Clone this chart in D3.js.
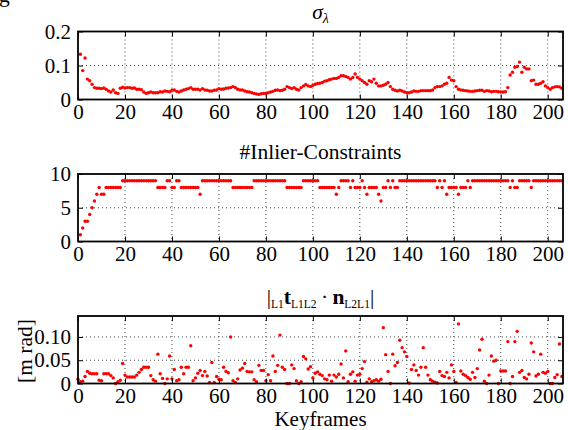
<!DOCTYPE html>
<html>
<head>
<meta charset="utf-8">
<script src="https://cdn.jsdelivr.net/npm/d3@7"></script>
<style>
  body { margin: 0; background: #fff; }
  svg, svg text { font-family: "Liberation Serif", "DejaVu Serif", serif; }
</style>
</head>
<body>
<svg id="chart" width="568" height="430"></svg>
<script>
// sigma_lambda per keyframe, keyframes 1..206
const sigma_start = 1
const sigma_lambda = [
  .133, .085, .122, .060, .055, .045, .035, .033, .033, .032,
  .034, .030, .025, .022, .028, .020, .018, .033, .036, .034,
  .035, .035, .033, .034, .030, .030, .029, .022, .018, .020,
  .022, .020, .020, .020, .023, .022, .025, .024, .023, .027,
  .028, .024, .022, .025, .028, .030, .032, .035, .030, .030,
  .030, .028, .032, .028, .027, .025, .025, .027, .028, .032,
  .030, .031, .033, .034, .035, .038, .035, .030, .028, .028,
  .025, .023, .022, .020, .018, .016, .015, .017, .018, .018,
  .020, .022, .024, .027, .028, .026, .027, .030, .038, .035,
  .032, .035, .030, .028, .035, .040, .044, .040, .038, .042,
  .045, .047, .048, .050, .054, .055, .058, .060, .062, .062,
  .065, .070, .070, .068, .065, .060, .065, .075, .065, .060,
  .055, .050, .045, .055, .052, .060, .048, .040, .040, .042,
  .045, .050, .038, .030, .027, .025, .027, .025, .022, .020,
  .020, .022, .025, .024, .024, .026, .026, .026, .026, .026,
  .028, .035, .038, .038, .040, .045, .048, .065, .057, .055,
  .038, .030, .028, .027, .026, .025, .024, .024, .025, .026,
  .027, .027, .024, .026, .025, .023, .024, .024, .023, .022,
  .022, .023, .035, .072, .080, .095, .097, .110, .080, .095,
  .090, .090, .055, .057, .045, .045, .048, .052, .040, .035,
  .030, .035, .037, .038, .037, .033
]

// number of inlier constraints per keyframe, keyframes 1..206
const inlier_start = 1
const inlier_constraints = [
  1, 2, 3, 3, 4, 5, 6, 7, 8, 7,
  7, 8, 8, 8, 8, 8, 8, 8, 9, 9,
  9, 9, 9, 9, 9, 9, 9, 9, 9, 9,
  9, 9, 9, 8, 8, 8, 8, 9, 9, 8,
  8, 9, 9, 8, 8, 8, 8, 8, 8, 8,
  8, 7, 9, 9, 9, 9, 9, 9, 9, 9,
  9, 9, 9, 9, 9, 8, 8, 8, 8, 8,
  8, 8, 8, 8, 9, 9, 9, 9, 9, 9,
  9, 9, 9, 9, 9, 9, 9, 9, 8, 8,
  8, 8, 8, 8, 8, 9, 9, 9, 9, 9,
  9, 9, 8, 8, 8, 8, 8, 8, 8, 7,
  8, 9, 9, 9, 9, 8, 9, 8, 8, 8,
  9, 8, 7, 8, 8, 8, 8, 7, 6, 8,
  8, 9, 8, 9, 8, 8, 9, 9, 9, 9,
  9, 9, 9, 9, 9, 9, 9, 9, 9, 9,
  9, 9, 8, 9, 8, 9, 7, 8, 8, 8,
  8, 7, 8, 8, 8, 9, 8, 9, 9, 9,
  9, 9, 9, 9, 9, 9, 9, 9, 9, 9,
  9, 9, 9, 8, 9, 8, 8, 9, 9, 9,
  9, 9, 8, 9, 9, 9, 9, 9, 9, 9,
  9, 9, 9, 9, 9, 9
]

// |t . n| in [m rad] per keyframe, keyframes 0..206
const tn_start = 0
const tn_error = [
  .009, .004, .005, .015, .026, .022, .021, .021, .021, .007,
  .006, .021, .021, .021, .017, .012, .000, .004, .007, .043,
  .018, .014, .014, .014, .014, .018, .024, .030, .035, .035,
  .035, .017, .008, .005, .063, .021, .011, .000, .010, .059,
  .010, .030, .006, .008, .035, .021, .035, .035, .081, .006,
  .012, .022, .028, .017, .026, .016, .002, .045, .002, .015,
  .009, .008, .035, .026, .023, .100, .006, .002, .010, .029,
  .033, .043, .026, .025, .025, .008, .004, .039, .028, .028,
  .006, .019, .006, .059, .026, .039, .104, .035, .030, .000,
  .000, .040, .032, .006, .000, .004, .058, .053, .031, .036,
  .012, .022, .025, .020, .017, .010, .008, .018, .005, .018,
  .014, .020, .042, .012, .070, .004, .020, .025, .005, .018,
  .020, .032, .047, .003, .010, .004, .006, .008, .005, .009,
  .120, .062, .026, .000, .063, .038, .045, .093, .077, .068,
  .058, .001, .030, .040, .028, .018, .035, .077, .035, .018,
  .008, .005, .003, .001, .026, .017, .015, .024, .012, .040,
  .026, .002, .128, .027, .020, .017, .013, .009, .024, .013,
  .032, .072, .095, .005, .000, .018, .059, .048, .050, .000,
  .027, .027, .027, .090, .000, .015, .090, .112, .024, .028,
  .013, .010, .020, .087, .068, .016, .020, .063, .024, .022,
  .026, .000, .000, .013, .019, .085, .015
]

const x_ticks = [0, 20, 40, 60, 80, 100, 120, 140, 160, 180, 200]
const sigma_ticks = [0, 0.1, 0.2]
const inlier_ticks = [0, 5, 10]
const tn_ticks = [0, 0.05, 0.10]

const serif = '"Liberation Serif", "DejaVu Serif", serif'
const svg = d3.select('#chart').attr('font-family', serif)
const font_size = 21.5
const tick_size = 21
const left = 78, right = 563

const x = d3.scaleLinear().domain([0, 206.5]).range([left, right])

function draw_panel(values, start, y, ticks, fmt) {
  let [bottom, top] = y.range()
  let g = svg.append('g')
  let pts = values.map((v, i) => [start + i, v])

  // Dotted grid
  g.selectAll('.vgrid')
    .data(x_ticks.filter(t => t > 0))
    .join('line')
    .attr('x1', d => x(d)).attr('x2', d => x(d))
    .attr('y1', top).attr('y2', bottom)
    .style('stroke', '#444')
    .style('stroke-width', 1)
    .style('stroke-dasharray', '1,3')
  g.selectAll('.hgrid')
    .data(ticks.slice(1).filter(t => y(t) > top + 1))
    .join('line')
    .attr('x1', left).attr('x2', right)
    .attr('y1', d => y(d)).attr('y2', d => y(d))
    .style('stroke', '#444')
    .style('stroke-width', 1)
    .style('stroke-dasharray', '1,3')

  // Points
  g.selectAll('circle')
    .data(pts)
    .join('circle')
    .attr('cx', d => x(d[0]))
    .attr('cy', d => y(d[1]))
    .attr('r', 1.7)
    .style('fill', '#ff0000')

  // Axes, ticks pointing inwards on all four sides
  let ax_b = g.append('g').attr('transform', `translate(0,${bottom})`)
    .call(d3.axisBottom(x).tickValues(x_ticks).tickSizeInner(-5).tickSizeOuter(0).tickPadding(5))
  let ax_t = g.append('g').attr('transform', `translate(0,${top})`)
    .call(d3.axisTop(x).tickValues(x_ticks).tickSizeInner(-5).tickSizeOuter(0).tickFormat(''))
  let ax_l = g.append('g').attr('transform', `translate(${left},0)`)
    .call(d3.axisLeft(y).tickValues(ticks).tickSizeInner(-5).tickSizeOuter(0).tickPadding(7).tickFormat(fmt))
  let ax_r = g.append('g').attr('transform', `translate(${right},0)`)
    .call(d3.axisRight(y).tickValues(ticks).tickSizeInner(-5).tickSizeOuter(0).tickFormat(''))

  for (let ax of [ax_b, ax_t, ax_l, ax_r]) {
    ax.select('.domain').remove()
    ax.attr('font-family', serif).attr('font-size', tick_size)
    ax.selectAll('line').style('stroke', '#000').style('stroke-width', 1)
    ax.selectAll('text').style('fill', '#000')
  }

  // Frame
  g.append('rect')
    .attr('x', left).attr('y', top)
    .attr('width', right - left).attr('height', bottom - top)
    .style('fill', 'none')
    .style('stroke', '#000')
    .style('stroke-width', 1.8)
}

let zero_fmt = f => (d => d === 0 ? '0' : d3.format(f)(d))

// Panel 1: sigma_lambda
let y1 = d3.scaleLinear().domain([0, 0.2]).range([99.5, 31.5])
draw_panel(sigma_lambda, sigma_start, y1, sigma_ticks, zero_fmt('.1f'))

// Panel 2: inlier constraints
let y2 = d3.scaleLinear().domain([0, 10]).range([241.5, 174])
draw_panel(inlier_constraints, inlier_start, y2, inlier_ticks, zero_fmt('d'))

// Panel 3: |t . n|
let y3 = d3.scaleLinear().domain([0, 0.145]).range([383.5, 316])
draw_panel(tn_error, tn_start, y3, tn_ticks, zero_fmt('.2f'))

// Titles
let cx = (left + right) / 2
let t1 = svg.append('text').attr('x', cx).attr('y', 19)
  .attr('text-anchor', 'middle').attr('font-size', font_size)
t1.append('tspan').text('σ').style('font-style', 'italic')
t1.append('tspan').text('λ').style('font-style', 'italic')
  .attr('font-size', 14).attr('dy', 4)

svg.append('text').attr('x', cx).attr('y', 159)
  .attr('text-anchor', 'middle').attr('font-size', font_size)
  .text('#Inlier-Constraints')

let t3 = svg.append('text').attr('x', cx).attr('y', 304)
  .attr('text-anchor', 'middle').attr('font-size', font_size)
let parts = [
  ['|', false, 0], ['L1', false, 4], ['t', true, -4], ['L1L2', false, 4],
  ['\u2009·\u2009', false, -4], ['n', true, 0], ['L2L1', false, 4], ['|', false, -4]
]
for (let [txt, bold, dy] of parts) {
  let small = (txt.startsWith('L'))
  t3.append('tspan').text(txt)
    .attr('dy', dy)
    .attr('font-size', small ? 11.5 : font_size)
    .style('font-weight', bold ? 'bold' : 'normal')
}

// Axis labels
svg.append('text')
  .attr('transform', 'translate(24,351) rotate(-90)')
  .attr('text-anchor', 'middle').attr('dy', '0.35em')
  .attr('font-size', font_size)
  .text('[m rad]')

svg.append('text').attr('x', cx).attr('y', 425.5)
  .attr('text-anchor', 'middle').attr('font-size', 21)
  .text('Keyframes')

// cut-off glyph in the top-left corner
svg.append('text').attr('x', -1).attr('y', 2).attr('font-size', font_size).text('g')
</script>
</body>
</html>
